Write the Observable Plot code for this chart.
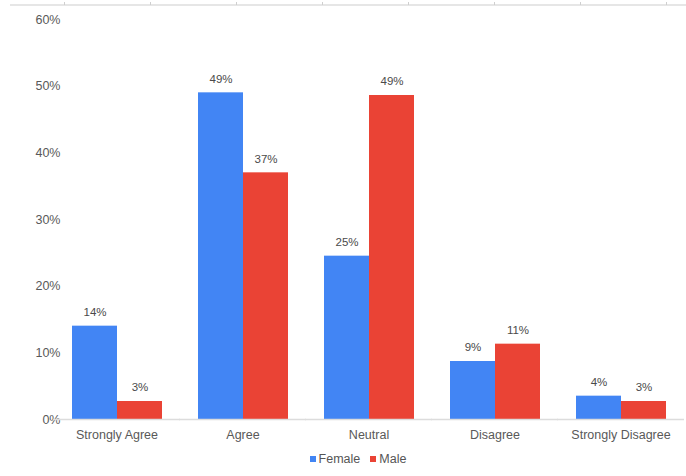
<!DOCTYPE html>
<html>
<head>
<meta charset="utf-8">
<script src="https://cdn.jsdelivr.net/npm/d3@7"></script>
<script src="https://cdn.jsdelivr.net/npm/@observablehq/plot@0.6"></script>
<style>
  html, body { margin: 0; padding: 0; background: #fff; }
  body { width: 686px; height: 476px; position: relative; overflow: hidden; font-family: "Liberation Sans", Arial, sans-serif; }
  #topline { position: absolute; left: 10px; right: 0; top: 4px; height: 2px; background: #e6e6e6; }
  #topticks { position: absolute; left: 64px; width: 610px; top: 2px; height: 3px;
    background: repeating-linear-gradient(to right, #cfcfcf 0 1px, transparent 1px 86px); }
  #chart svg { display: block; }
  #legend { display: flex; justify-content: center; align-items: center; gap: 10px; font-size: 12.5px; color: #555; height: 18px; margin-top: 0px; padding-left: 30px; }
  #legend .item { display: flex; align-items: center; gap: 3px; }
  #legend .sw { width: 6px; height: 6px; display: inline-block; }
</style>
</head>
<body>
<div id="topline"></div>
<div id="topticks"></div>
<div id="chart"></div>
<div id="legend"></div>
<script>
const categories = ["Strongly Agree", "Agree", "Neutral", "Disagree", "Strongly Disagree"];
const series = ["Female", "Male"];
const female = [14.0, 49.0, 24.5, 8.7, 3.5];
const male = [2.7, 37.0, 48.6, 11.3, 2.7];
const colors = ["#4285F4", "#EA4335"];
const yTicks = [0, 10, 20, 30, 40, 50, 60];

const data = [];
categories.forEach((c, i) => {
  data.push({category: c, gender: "Female", value: female[i]});
  data.push({category: c, gender: "Male", value: male[i]});
});

const plot = Plot.plot({
  width: 686,
  height: 450,
  marginTop: 19,
  marginBottom: 31,
  marginLeft: 52,
  marginRight: 1,
  style: {fontFamily: "'Liberation Sans', Arial, sans-serif", fontSize: "12.5px", color: "#595959", background: "#fff"},
  fx: {domain: categories, paddingInner: 0.275, paddingOuter: 0.13, label: null, axis: "bottom", tickSize: 0, tickPadding: 11},
  x: {domain: series, padding: 0, axis: null},
  y: {domain: [0, 60], ticks: yTicks, tickFormat: d => d + "%", tickSize: 0, tickPadding: 11, label: null},
  color: {domain: series, range: colors},
  marks: [
    Plot.barY(data, {fx: "category", x: "gender", y: "value", fill: "gender", inset: 0}),
    Plot.text(data, {fx: "category", x: "gender", y: "value", text: d => Math.round(d.value) + "%", dy: -14, fill: "#4a4a4a", fontSize: 11.5}),
    Plot.ruleY([0], {stroke: "#dcdcdc", strokeWidth: 1.5, insetLeft: -18, insetRight: -18})
  ]
});
document.getElementById("chart").appendChild(plot);

const legend = document.getElementById("legend");
series.forEach((s, i) => {
  const item = document.createElement("span");
  item.className = "item";
  const sw = document.createElement("span");
  sw.className = "sw";
  sw.style.background = colors[i];
  item.appendChild(sw);
  item.appendChild(document.createTextNode(s));
  legend.appendChild(item);
});
</script>
</body>
</html>
